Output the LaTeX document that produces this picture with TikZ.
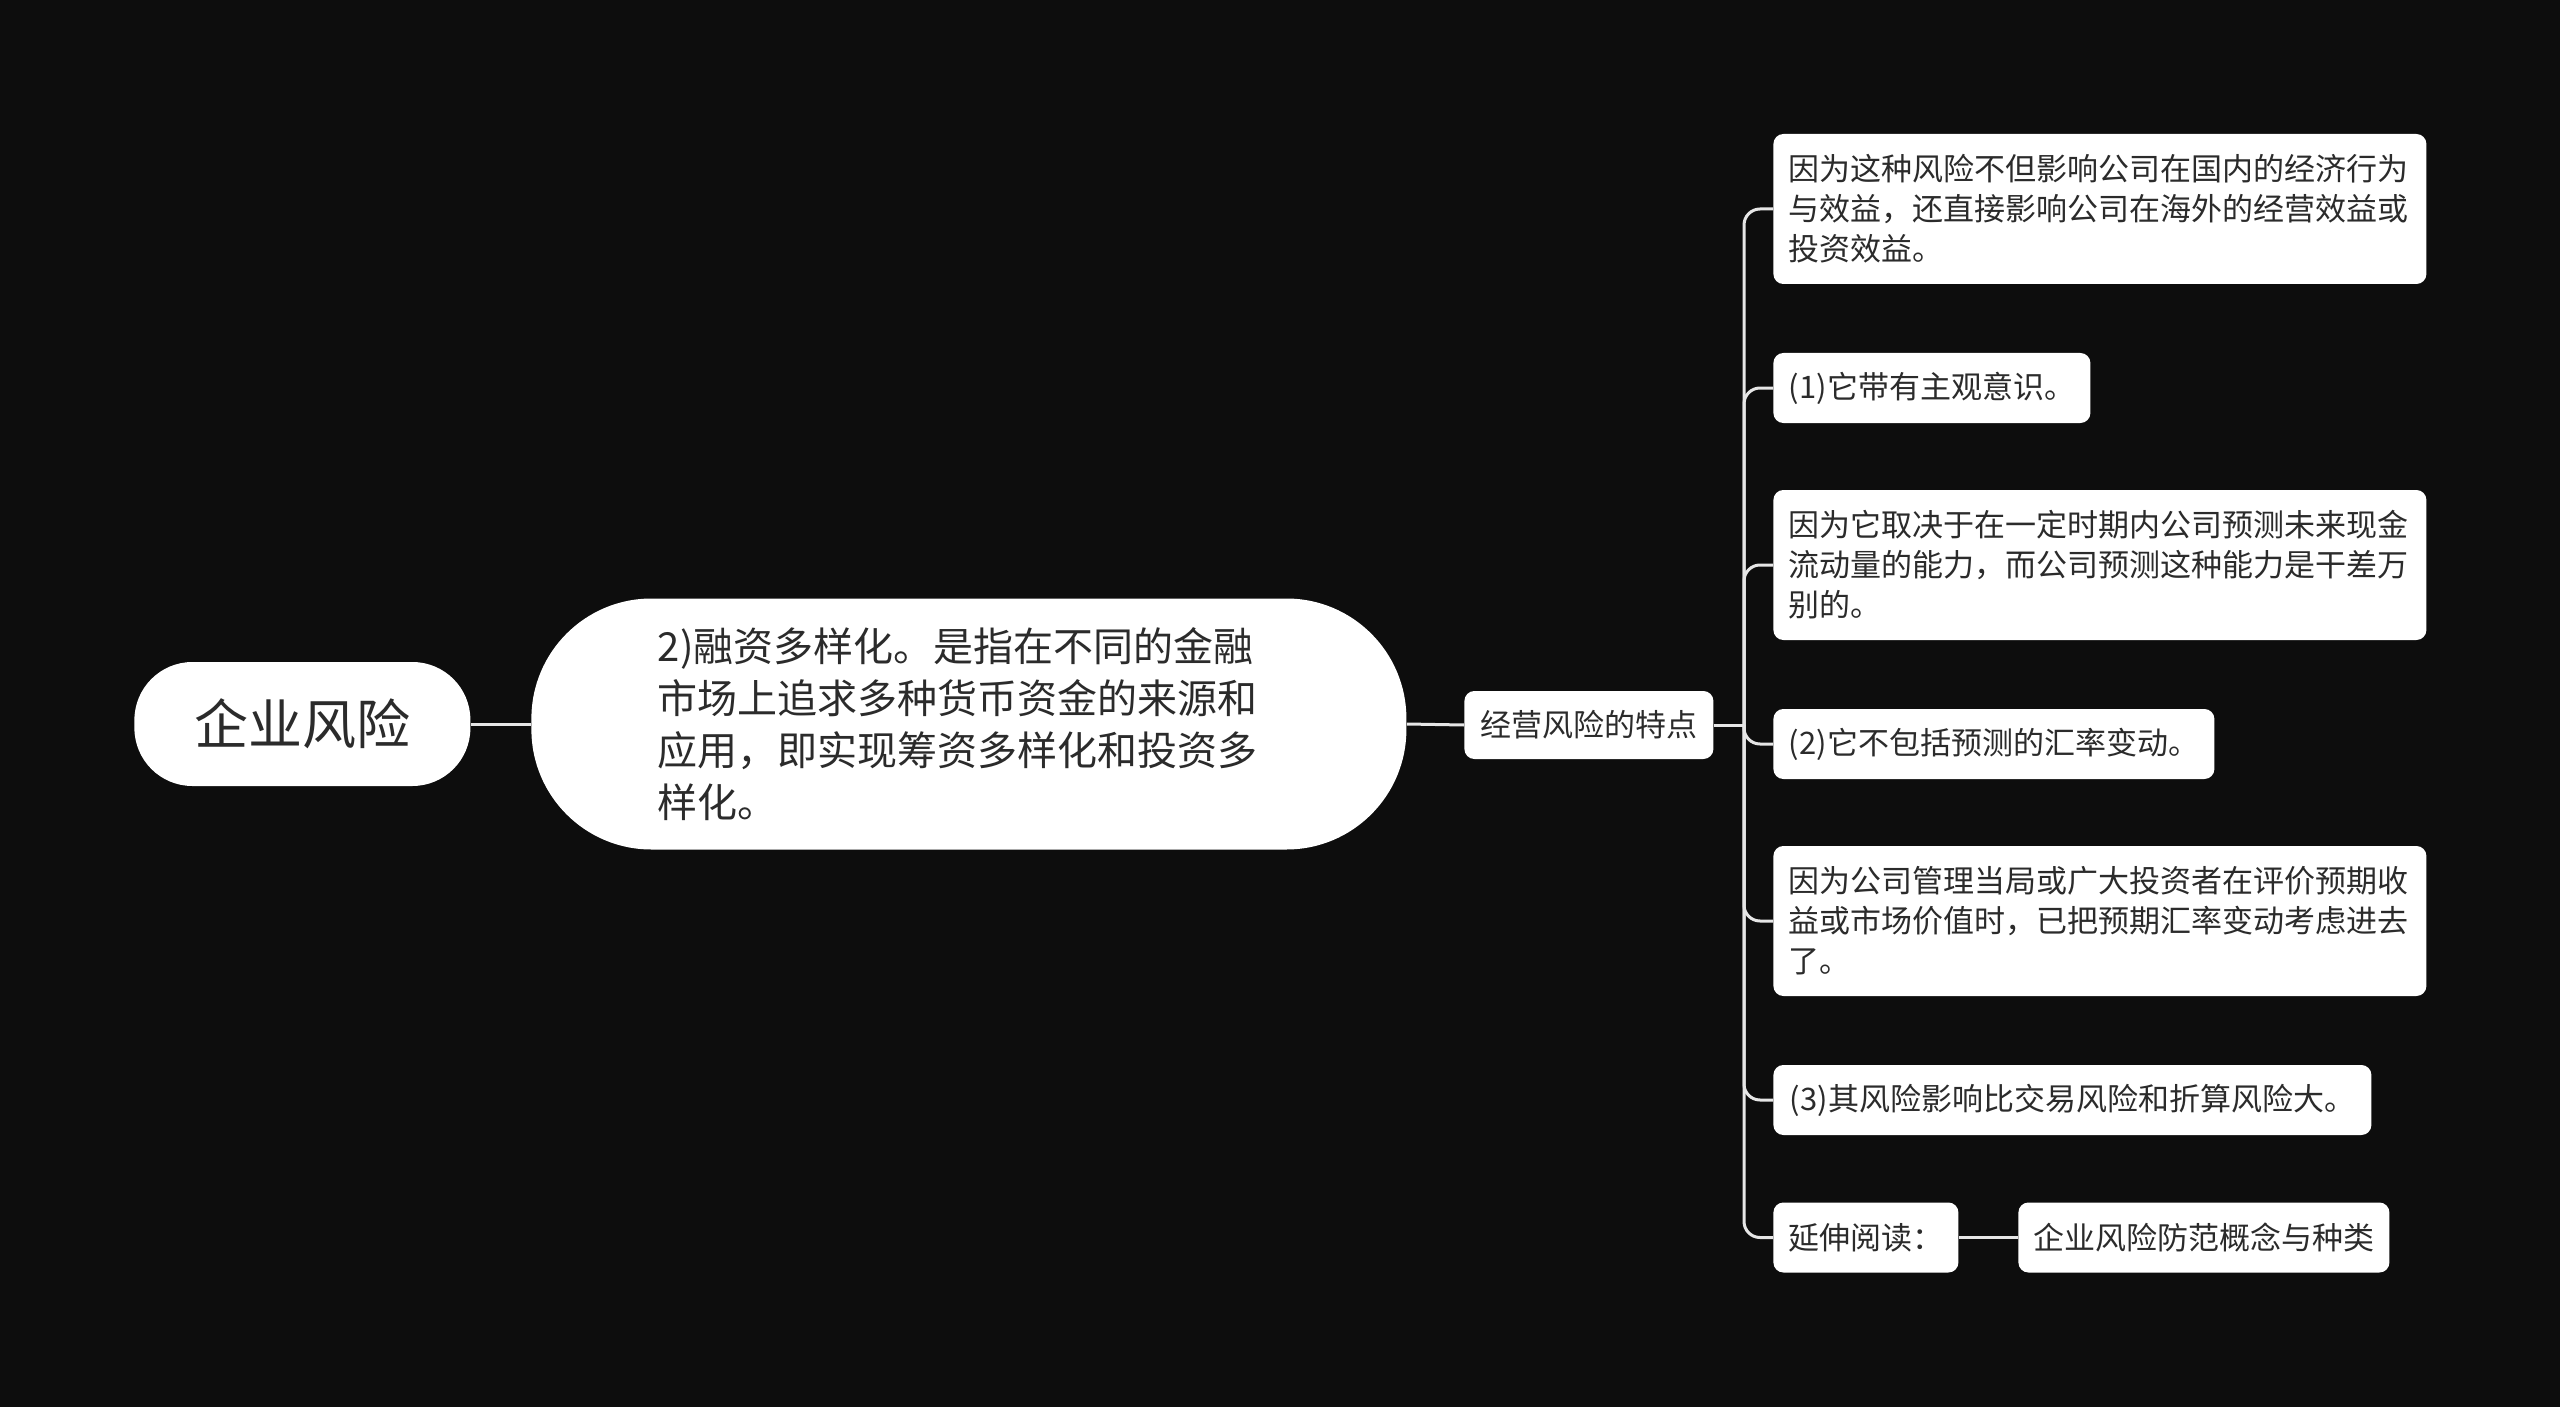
\documentclass[tikz,border=0pt]{standalone}
\usepackage{fontspec}
\setmainfont{Noto Sans CJK SC}
\definecolor{bg}{HTML}{0D0D0D}
\definecolor{ink}{HTML}{2B2B2B}
\definecolor{wire}{HTML}{E6E6E6}
\begin{document}
\begin{tikzpicture}[x=1pt,y=1pt,
  box/.style={fill=white,draw=none,text=ink,anchor=west,inner xsep=0pt,inner ysep=0pt},
  leaf/.style={box,rounded corners=5pt,font=\fontsize{15.5}{20}\selectfont,align=left,minimum height=35pt},
  conn/.style={draw=wire,line width=1.5pt},
  elbow/.style={conn,rounded corners=8pt}]
\fill[bg] (0,0) rectangle (1280,-703.5);
\useasboundingbox (0,0) rectangle (1280,-703.5);
% main nodes
\node[box,rounded corners=29pt,minimum width=168pt,minimum height=62pt,align=center,
      font=\fontsize{27}{30}\selectfont] (root) at (67,-362) {企业风险};
\node[box,rounded corners=60pt,minimum width=437.5pt,minimum height=125.5pt,text width=311pt,align=left,
      font=\fontsize{20}{26}\selectfont] (n2) at (265.5,-362) {2)融资多样化。是指在不同的金融\\市场上追求多种货币资金的来源和\\应用，即实现筹资多样化和投资多\\样化。};
\node[leaf,minimum width=124.5pt,minimum height=34pt,align=center] (hub) at (732,-362.5) {经营风险的特点};
% leaves
\node[leaf,minimum height=75pt,minimum width=326.5pt] (L1) at (886.5,-104.5) {\hspace*{7.5pt}\parbox{319pt}{因为这种风险不但影响公司在国内的经济行为\\与效益，还直接影响公司在海外的经营效益或\\投资效益。}};
\node[leaf,minimum width=158.5pt] (L2) at (886.5,-194) {\hspace*{7.5pt}(1)它带有主观意识。\hspace*{7.5pt}};
\node[leaf,minimum height=75pt,minimum width=326.5pt] (L3) at (886.5,-282.5) {\hspace*{7.5pt}\parbox{319pt}{因为它取决于在一定时期内公司预测未来现金\\流动量的能力，而公司预测这种能力是干差万\\别的。}};
\node[leaf,minimum width=220.5pt] (L4) at (886.5,-372) {\hspace*{7.5pt}(2)它不包括预测的汇率变动。\hspace*{7.5pt}};
\node[leaf,minimum height=75pt,minimum width=326.5pt] (L5) at (886.5,-460.5) {\hspace*{7.5pt}\parbox{319pt}{因为公司管理当局或广大投资者在评价预期收\\益或市场价值时，已把预期汇率变动考虑进去\\了。}};
\node[leaf,minimum width=299pt] (L6) at (886.5,-550) {\hspace*{7.5pt}(3)其风险影响比交易风险和折算风险大。\hspace*{7.5pt}};
\node[leaf,minimum width=92.5pt] (L7) at (886.5,-618.75) {\hspace*{7.5pt}延伸阅读：\hspace*{7.5pt}};
\node[leaf,minimum width=185.5pt,align=center] (L8) at (1009,-618.75) {企业风险防范概念与种类};
% connectors
\coordinate (tr) at (872,-362.5);
\draw[conn] (root.east) -- (n2.west);
\draw[conn] (n2.east) -- (hub.west);
\draw[conn] (hub.east) -- (tr);
\foreach \n in {L1,L2,L3,L4,L5,L6,L7}{\draw[elbow] (tr) |- (\n.west);}
\draw[conn] (L7.east) -- (L8.west);
\end{tikzpicture}
\end{document}
